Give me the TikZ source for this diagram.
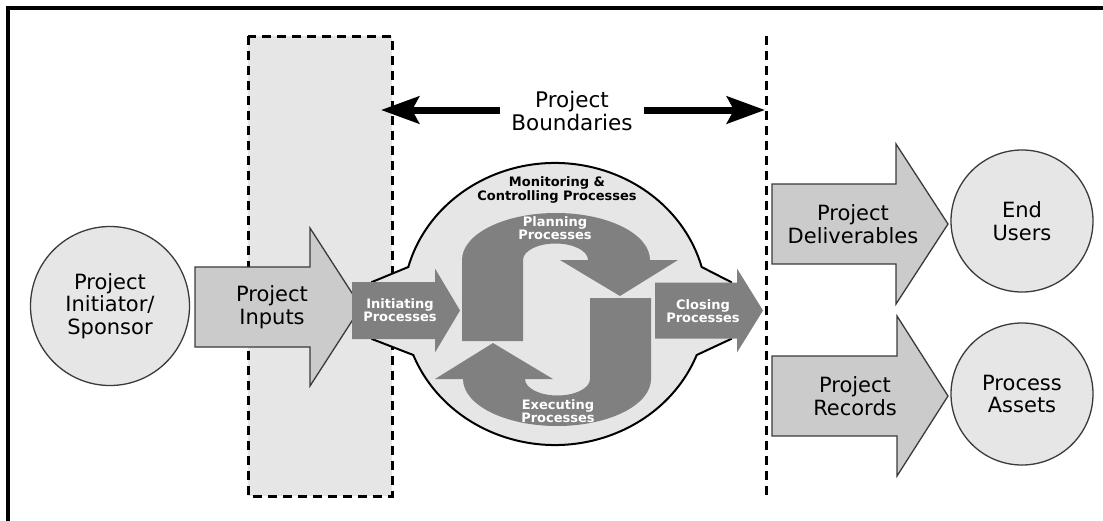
\documentclass[tikz,border=0pt]{standalone}
\usepackage{fontspec}
\setmainfont{DejaVu Sans}
\usetikzlibrary{arrows.meta}
\definecolor{lightfill}{HTML}{E6E6E6}
\definecolor{midfill}{HTML}{CBCBCB}
\definecolor{darkfill}{HTML}{808080}
\definecolor{edgegray}{HTML}{3A3A3A}
% block arrow: style, body left x, head base x, tip x, centre y, body half height, head half height
\newcommand{\blkarrow}[7]{%
  \path[#1] (#2,#5-#6) -- (#3,#5-#6) -- (#3,#5-#7) -- (#4,#5) -- (#3,#5+#7) -- (#3,#5+#6) -- (#2,#5+#6) -- cycle;}
\begin{document}
\begin{tikzpicture}[x=1pt,y=-1pt,
  lbl/.style={font=\fontsize{21}{22.5}\selectfont, align=center, inner sep=0pt, text=black},
  wlbl/.style={font=\fontsize{13}{13}\selectfont\bfseries, align=center, inner sep=0pt, text=white},
  blbl/.style={font=\fontsize{13}{14}\selectfont\bfseries, align=center, inner sep=0pt, text=black},
  circ/.style={circle, draw=edgegray, line width=1.3pt, fill=lightfill, minimum size=#1, inner sep=0pt,
    font=\fontsize{21}{22.5}\selectfont, align=center},
  lightarrow/.style={draw=edgegray, line width=1.3pt, fill=midfill, line join=miter},
  darkarrow/.style={fill=darkfill},
  dashline/.style={dash pattern=on 9pt off 6pt, line width=3pt},
  blob/.style={fill=lightfill, draw=black, line width=2pt, line join=miter},
  ]
\useasboundingbox (0,0) rectangle (1103,520);
% frame
\draw[line width=3.5pt] (8,530) -- (8,8) -- (1110,8);

% project inputs zone
\path[fill=lightfill] (248,36) rectangle (392,496);
\draw[dashline] (248,36) rectangle (392,496);
\draw[dashline] (766,36) -- (766,496);

% project inputs arrow
\blkarrow{lightarrow}{195}{310}{361}{307}{40}{79}

% process blob
\path[blob] (372,282) -- (408.3,267)
  arc[start angle=195.2, end angle=344.8, x radius=152, y radius=141]
  -- (731,282) -- (731,339) -- (696.7,355)
  arc[start angle=21.2, end angle=158.8, x radius=152, y radius=141]
  -- (372,339) -- cycle;

% planning arrow
\path[darkarrow] (462,341) -- (462,260)
  arc[start angle=180, end angle=360, x radius=94, y radius=47]
  -- (678,260) -- (620,296) -- (560,260) -- (588,260)
  arc[start angle=0, end angle=-180, x radius=32.5, y radius=16.5]
  -- (523,341) -- cycle;
% executing arrow (same shape turned half round)
\path[darkarrow, rotate around={180:(556.5,319.5)}] (462,341) -- (462,260)
  arc[start angle=180, end angle=360, x radius=94, y radius=47]
  -- (678,260) -- (620,296) -- (560,260) -- (588,260)
  arc[start angle=0, end angle=-180, x radius=32.5, y radius=16.5]
  -- (523,341) -- cycle;

% initiating and closing arrows
\blkarrow{darkarrow}{352}{435}{460}{310.5}{28.5}{42}
\blkarrow{darkarrow}{655}{737}{763}{310.5}{28}{42}

% output arrows
\blkarrow{lightarrow}{772}{896}{948}{224}{40}{80}
\blkarrow{lightarrow}{772}{897}{948}{396}{40}{80}

% circles
\node[circ=159pt] (init) at (110,306) {Project\\Initiator/\\Sponsor};
\node[circ=142pt] (endusers) at (1022,221) {End\\Users};
\node[circ=142pt] (assets) at (1022,394) {Process\\Assets};

% labels
\node[lbl] (inputs) at (272,307) {Project\\Inputs};
\node[lbl] (deliverables) at (853,224) {Project\\Deliverables};
\node[lbl] (records) at (855,396) {Project\\Records};
\node[wlbl] (initiating) at (400,310.5) {Initiating\\Processes};
\node[wlbl] (closing) at (703,311) {Closing\\Processes};
\node[wlbl] (planning) at (555,228) {Planning\\Processes};
\node[wlbl] (executing) at (558,411) {Executing\\Processes};
\node[blbl] (monitoring) at (557,190) {Monitoring \&\\Controlling Processes};

% project boundaries
\node[lbl, font=\fontsize{21.5}{23}\selectfont, inner xsep=11pt] (bnd) at (572,110.5) {Project\\Boundaries};
\coordinate (bl) at (381,110);
\coordinate (br) at (765,110);
\draw[line width=7pt, -{Stealth[length=38pt,width=27pt,inset=7pt]}] (bnd.west |- bl) -- (bl);
\draw[line width=7pt, -{Stealth[length=38pt,width=27pt,inset=7pt]}] (bnd.east |- br) -- (br);
\end{tikzpicture}
\end{document}
